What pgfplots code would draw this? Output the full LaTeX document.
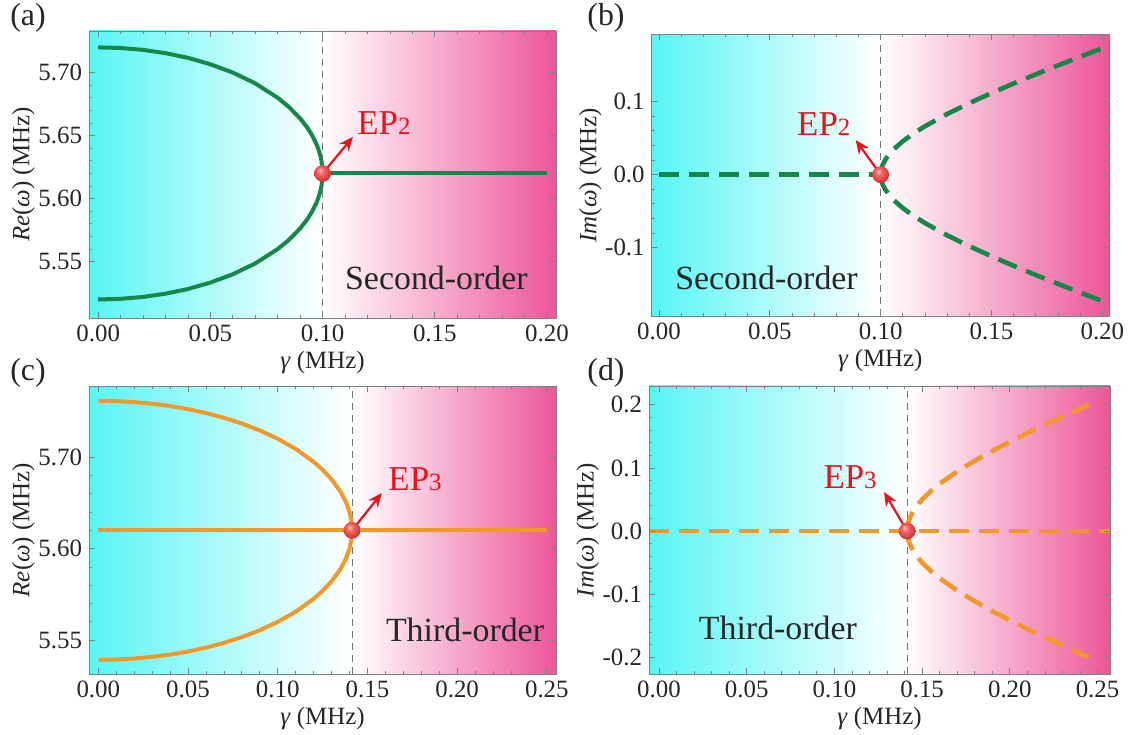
\documentclass[border=0pt]{standalone}
\usepackage{pgfplots}
\pgfplotsset{compat=1.18}
\usepackage{fontspec}
\setmainfont{Liberation Serif}
\usetikzlibrary{arrows.meta}
\definecolor{cyanL}{RGB}{88,245,245}
\definecolor{pinkR}{RGB}{236,86,152}
\definecolor{lgreen}{RGB}{22,135,72}
\definecolor{lorange}{RGB}{242,152,42}
\definecolor{epred}{RGB}{232,18,24}
\definecolor{frame}{RGB}{120,130,135}
\definecolor{ballA}{RGB}{252,190,185}
\definecolor{ballB}{RGB}{242,105,100}
\definecolor{ballC}{RGB}{222,60,58}
\definecolor{ballD}{RGB}{185,40,40}
\pgfdeclareradialshading{epballshade}{\pgfpoint{-8bp}{10bp}}{color(0bp)=(ballA); color(10bp)=(ballB); color(24bp)=(ballC); color(30bp)=(ballD); color(50bp)=(ballD)}
\pgfdeclareplotmark{epball}{%
  \pgfpathcircle{\pgfpointorigin}{\pgfplotmarksize}%
  \pgfshadepath{epballshade}{0}%
  \pgfusepath{}%
}
\tikzset{eparrow/.style={epred, line width=1.1bp, -{Stealth[length=7bp,width=6bp]}}}
\pgfplotsset{
  panel/.style={
    scale only axis, axis on top, anchor=south west,
    axis line style={frame, line width=0.45bp},
    every tick/.style={frame, line width=0.4bp},
    major tick length=3bp, minor tick length=1.6bp,
    tick align=inside, xtick pos=both, ytick pos=both,
    xticklabel pos=lower, yticklabel pos=left,
    minor x tick num=4, minor y tick num=4,
    scaled ticks=false,
    /pgf/number format/assume math mode=true,
    tick label style={font=\fontsize{12.5}{14}\selectfont, text=black!85},
    label style={font=\fontsize{12.5}{14}\selectfont, text=black!85},
    x tick label style={/pgf/number format/.cd, fixed, fixed zerofill, precision=2, /tikz/.cd},
    xlabel={\textit{γ} (MHz)},
    xlabel style={yshift=2bp},
    ylabel style={yshift=-5bp},
  },
  solidg/.style={lgreen, line width=2bp},
  dashg/.style={lgreen, line width=2.3bp, dash pattern=on 10bp off 5bp},
  solido/.style={lorange, line width=2bp},
  dasho/.style={lorange, line width=2.3bp, dash pattern=on 10bp off 5bp},
  epball/.style={only marks, mark=epball, mark size=4.2bp},
}
\newcommand{\EP}[1]{\fontsize{17.5}{20}\selectfont EP{\fontsize{12.5}{14}\selectfont #1}}
\newcommand{\ord}{\fontsize{17}{20}\selectfont}
\begin{document}
\begin{tikzpicture}
\useasboundingbox (0,0) rectangle (564.5bp,367.5bp);
% ---------------- (a)
\begin{axis}[panel, at={(44.5bp,208.5bp)}, width=233.5bp, height=143.5bp,
  xmin=-0.0041, xmax=0.2040, ymin=5.5053, ymax=5.733,
  xtick={0,0.05,0.10,0.15,0.20},
  ytick={5.55,5.60,5.65,5.70},
  y tick label style={/pgf/number format/.cd, fixed, fixed zerofill, precision=2, /tikz/.cd},
  ylabel={\textit{Re}(\textit{ω}) (MHz)}]
\fill[left color=cyanL, right color=white] (axis cs:-0.0041,5.5053) rectangle (axis cs:0.1,5.733);
\fill[left color=white, right color=pinkR] (axis cs:0.1,5.5053) rectangle (axis cs:0.2040,5.733);
\draw[black!55, line width=0.5bp, dash pattern=on 3.5bp off 2.5bp] (axis cs:0.1,5.5053) -- (axis cs:0.1,5.733);
\addplot[solidg] coordinates {(0,5.72) (0.01,5.7195) (0.02,5.7180) (0.03,5.7154) (0.04,5.7117) (0.05,5.7066) (0.06,5.70) (0.07,5.6914) (0.08,5.68) (0.085,5.6727) (0.09,5.6636) (0.093,5.6568) (0.095,5.6512) (0.097,5.6443) (0.098,5.6399) (0.099,5.6341) (0.0995,5.6300) (0.1,5.62)};
\addplot[solidg] coordinates {(0,5.52) (0.01,5.5205) (0.02,5.5220) (0.03,5.5246) (0.04,5.5283) (0.05,5.5334) (0.06,5.54) (0.07,5.5486) (0.08,5.56) (0.085,5.5673) (0.09,5.5764) (0.093,5.5832) (0.095,5.5888) (0.097,5.5957) (0.098,5.6001) (0.099,5.6059) (0.0995,5.6100) (0.1,5.62)};
\addplot[solidg] coordinates {(0.1,5.62) (0.2,5.62)};
\draw[eparrow] (axis cs:0.1,5.62) -- (axis cs:0.1135,5.649);
\addplot[epball] coordinates {(0.1,5.62)};
\node[anchor=base west, text=epred, inner sep=0pt] at (axis cs:0.1153,5.6506) {\EP{2}};
\node[text=black!85] at (axis cs:0.1507,5.537) {\ord Second-order};
\end{axis}
% ---------------- (b)
\begin{axis}[panel, at={(325.85bp,209.5bp)}, width=228.65bp, height=140.85bp,
  xmin=-0.0033, xmax=0.2030, ymin=-0.1936, ymax=0.1923,
  xtick={0,0.05,0.10,0.15,0.20},
  ytick={-0.1,0,0.1},
  y tick label style={/pgf/number format/.cd, fixed, fixed zerofill, precision=1, /tikz/.cd},
  ylabel={\textit{Im}(\textit{ω}) (MHz)}]
\fill[left color=cyanL, right color=white] (axis cs:-0.0033,-0.1936) rectangle (axis cs:0.1,0.1923);
\fill[left color=white, right color=pinkR] (axis cs:0.1,-0.1936) rectangle (axis cs:0.2030,0.1923);
\draw[black!55, line width=0.5bp, dash pattern=on 3.5bp off 2.5bp] (axis cs:0.1,-0.1936) -- (axis cs:0.1,0.1923);
\addplot[dashg] coordinates {(0,0) (0.1,0)};
\addplot[dashg] coordinates {(0.1,0) (0.1005,0.01001) (0.101,0.01418) (0.102,0.02010) (0.104,0.02857) (0.106,0.03516) (0.11,0.04583) (0.115,0.05679) (0.12,0.06633) (0.13,0.08307) (0.14,0.09798) (0.15,0.11180) (0.16,0.12490) (0.17,0.13748) (0.18,0.14967) (0.19,0.16155) (0.20,0.17321)};
\addplot[dashg] coordinates {(0.1,0) (0.1005,-0.01001) (0.101,-0.01418) (0.102,-0.02010) (0.104,-0.02857) (0.106,-0.03516) (0.11,-0.04583) (0.115,-0.05679) (0.12,-0.06633) (0.13,-0.08307) (0.14,-0.09798) (0.15,-0.11180) (0.16,-0.12490) (0.17,-0.13748) (0.18,-0.14967) (0.19,-0.16155) (0.20,-0.17321)};
\draw[eparrow] (axis cs:0.1,0) -- (axis cs:0.0887,0.0475);
\addplot[epball] coordinates {(0.1,0)};
\node[anchor=base east, text=epred, inner sep=0pt] at (axis cs:0.0865,0.054) {\EP{2}};
\node[text=black!85] at (axis cs:0.0485,-0.1415) {\ord Second-order};
\end{axis}
% ---------------- (c)
\begin{axis}[panel, at={(44.5bp,30.5bp)}, width=233.5bp, height=144bp,
  xmin=-0.0052, xmax=0.2551, ymin=5.4631, ymax=5.7776,
  xtick={0,0.05,0.10,0.15,0.20,0.25},
  ytick={5.50,5.60,5.70}, yticklabels={5.55,5.60,5.70},
  ylabel={\textit{Re}(\textit{ω}) (MHz)}]
\fill[left color=cyanL, right color=white] (axis cs:-0.0052,5.4631) rectangle (axis cs:0.14142,5.7776);
\fill[left color=white, right color=pinkR] (axis cs:0.14142,5.4631) rectangle (axis cs:0.2551,5.7776);
\draw[black!55, line width=0.5bp, dash pattern=on 3.5bp off 2.5bp] (axis cs:0.14142,5.4631) -- (axis cs:0.14142,5.7776);
\addplot[solido] coordinates {(0,5.62) (0.25,5.62)};
\addplot[solido] coordinates {(0,5.7614) (0.01,5.7611) (0.02,5.76) (0.03,5.7582) (0.04,5.7557) (0.05,5.7523) (0.06,5.7481) (0.07,5.7429) (0.08,5.7366) (0.09,5.7291) (0.10,5.72) (0.11,5.7089) (0.12,5.6948) (0.125,5.6861) (0.13,5.6757) (0.135,5.6621) (0.138,5.6509) (0.14,5.64) (0.141,5.6309) (0.14142,5.62)};
\addplot[solido] coordinates {(0,5.4786) (0.01,5.4789) (0.02,5.48) (0.03,5.4818) (0.04,5.4843) (0.05,5.4877) (0.06,5.4919) (0.07,5.4971) (0.08,5.5034) (0.09,5.5109) (0.10,5.52) (0.11,5.5311) (0.12,5.5452) (0.125,5.5539) (0.13,5.5643) (0.135,5.5779) (0.138,5.5891) (0.14,5.60) (0.141,5.6091) (0.14142,5.62)};
\draw[eparrow] (axis cs:0.14142,5.62) -- (axis cs:0.158,5.6607);
\addplot[epball] coordinates {(0.14142,5.62)};
\node[anchor=base west, text=epred, inner sep=0pt] at (axis cs:0.1615,5.664) {\EP{3}};
\node[text=black!85] at (axis cs:0.2044,5.5111) {\ord Third-order};
\end{axis}
% ---------------- (d)
\begin{axis}[panel, at={(324.5bp,30.5bp)}, width=230.5bp, height=144bp,
  xmin=-0.0057, xmax=0.2571, ymin=-0.2266, ymax=0.2298,
  xtick={0,0.05,0.10,0.15,0.20,0.25},
  ytick={-0.2,-0.1,0,0.1,0.2},
  y tick label style={/pgf/number format/.cd, fixed, fixed zerofill, precision=1, /tikz/.cd},
  ylabel={\textit{Im}(\textit{ω}) (MHz)}]
\fill[left color=cyanL, right color=white] (axis cs:-0.0057,-0.2266) rectangle (axis cs:0.14142,0.2298);
\fill[left color=white, right color=pinkR] (axis cs:0.14142,-0.2266) rectangle (axis cs:0.2571,0.2298);
\draw[black!55, line width=0.5bp, dash pattern=on 3.5bp off 2.5bp] (axis cs:0.14142,-0.2266) -- (axis cs:0.14142,0.2298);
\addplot[dasho] coordinates {(-0.0057,0) (0.2571,0)};
\addplot[dasho] coordinates {(0.14142,0) (0.142,0.01281) (0.143,0.02119) (0.145,0.03202) (0.148,0.04363) (0.15,0.05) (0.155,0.06344) (0.16,0.07483) (0.17,0.09434) (0.18,0.11136) (0.19,0.12689) (0.20,0.14142) (0.21,0.15524) (0.22,0.16852) (0.23,0.18138) (0.24,0.19391) (0.245,0.20006)};
\addplot[dasho] coordinates {(0.14142,0) (0.142,-0.01281) (0.143,-0.02119) (0.145,-0.03202) (0.148,-0.04363) (0.15,-0.05) (0.155,-0.06344) (0.16,-0.07483) (0.17,-0.09434) (0.18,-0.11136) (0.19,-0.12689) (0.20,-0.14142) (0.21,-0.15524) (0.22,-0.16852) (0.23,-0.18138) (0.24,-0.19391) (0.245,-0.20006)};
\draw[eparrow] (axis cs:0.14142,0) -- (axis cs:0.1283,0.0618);
\addplot[epball] coordinates {(0.14142,0)};
\node[anchor=base east, text=epred, inner sep=0pt] at (axis cs:0.1243,0.068) {\EP{3}};
\node[text=black!85] at (axis cs:0.0678,-0.1537) {\ord Third-order};
\end{axis}
% panel labels
\node[font=\fontsize{16}{18}\selectfont, text=black!85, anchor=north, inner sep=0pt] at (14bp,366bp) {(a)};
\node[font=\fontsize{16}{18}\selectfont, text=black!85, anchor=north, inner sep=0pt] at (303bp,366bp) {(b)};
\node[font=\fontsize{16}{18}\selectfont, text=black!85, anchor=north, inner sep=0pt] at (14bp,188.5bp) {(c)};
\node[font=\fontsize{16}{18}\selectfont, text=black!85, anchor=north, inner sep=0pt] at (303bp,188.5bp) {(d)};
\end{tikzpicture}
\end{document}
